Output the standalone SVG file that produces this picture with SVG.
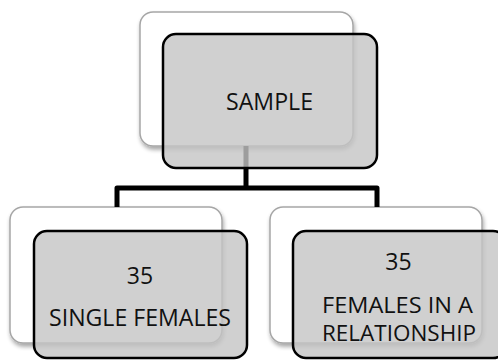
<svg xmlns="http://www.w3.org/2000/svg" width="498" height="360" viewBox="0 0 498 360">
<defs>
<filter id="sh" x="-10%" y="-10%" width="130%" height="130%">
<feGaussianBlur in="SourceAlpha" stdDeviation="2"/>
<feOffset dx="1" dy="3"/>
<feComponentTransfer><feFuncA type="linear" slope="0.35"/></feComponentTransfer>
<feMerge><feMergeNode/><feMergeNode in="SourceGraphic"/></feMerge>
</filter>
</defs>
<style>
.back{fill:#ffffff;stroke:#a6a6a6;stroke-width:1.5;}
.front{fill:#c4c4c4;fill-opacity:0.8;stroke:#000;stroke-width:2.5;}
.conn{fill:none;stroke:#000;stroke-width:5;stroke-linejoin:round;}
text{font-family:"Open Sans","Liberation Sans",sans-serif;font-size:23px;fill:#111;text-anchor:middle;}
.tight{font-size:21px;}
</style>
<g id="back-sample"><rect class="back" x="140" y="12" width="213" height="134" rx="13" filter="url(#sh)"/></g>
<g id="back-single"><rect class="back" x="10" y="207" width="212" height="136" rx="13" filter="url(#sh)"/></g>
<g id="back-relationship"><rect class="back" x="270" y="207" width="212" height="136" rx="13" filter="url(#sh)"/></g>
<g id="connectors">
<path class="conn" d="M246,146 V188 M117,207 V188 H377 V207"/>
</g>
<g id="sample">
<rect class="front" x="163" y="34" width="214" height="134" rx="13"/>
<text x="269.5" y="110" textLength="87" lengthAdjust="spacingAndGlyphs">SAMPLE</text>
</g>
<g id="single">
<rect class="front" x="34" y="231" width="213" height="127" rx="13"/>
<text x="140" y="284">35</text>
<text x="140" y="326" textLength="182" lengthAdjust="spacingAndGlyphs">SINGLE FEMALES</text>
</g>
<g id="relationship">
<rect class="front" x="293" y="231" width="213" height="127" rx="13"/>
<text x="398.5" y="270">35</text>
<text class="tight" x="397.5" y="313" textLength="151" lengthAdjust="spacingAndGlyphs">FEMALES IN A</text>
<text class="tight" x="399" y="341" textLength="154" lengthAdjust="spacingAndGlyphs">RELATIONSHIP</text>
</g>
</svg>
